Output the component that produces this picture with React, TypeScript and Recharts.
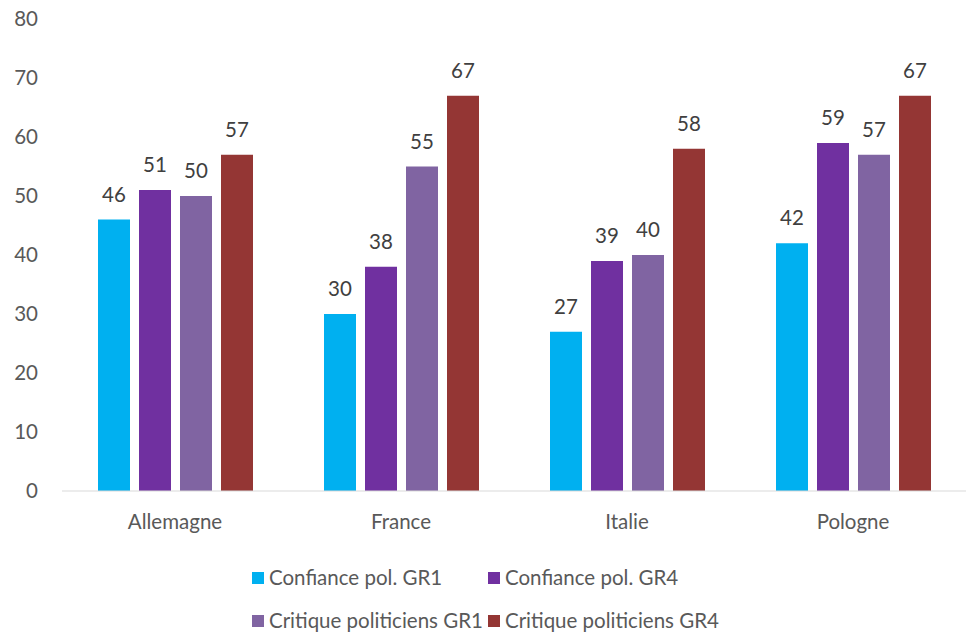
import React from 'react';
import { BarChart, Bar, XAxis, YAxis, LabelList, Legend } from 'recharts';

const categories = ['Allemagne', 'France', 'Italie', 'Pologne'];
const confianceGR1 = [46, 30, 27, 42];
const confianceGR4 = [51, 38, 39, 59];
const critiqueGR1 = [50, 55, 40, 57];
const critiqueGR4 = [57, 67, 58, 67];
const yTicks = [0, 10, 20, 30, 40, 50, 60, 70, 80];

const series = [
  { key: 'c1', name: 'Confiance pol. GR1', color: '#00B0F0' },
  { key: 'c4', name: 'Confiance pol. GR4', color: '#7030A0' },
  { key: 'k1', name: 'Critique politiciens GR1', color: '#8064A2' },
  { key: 'k4', name: 'Critique politiciens GR4', color: '#943634' },
];

const data = categories.map((name, i) => ({
  name,
  c1: confianceGR1[i],
  c4: confianceGR4[i],
  k1: critiqueGR1[i],
  k4: critiqueGR4[i],
}));

const FONT = 'Lato, "Open Sans", sans-serif';
const FS = 20.5;

const renderLegend = () => (
  <div
    style={{
      display: 'grid',
      gridTemplateColumns: '236px 240px',
      rowGap: '20px',
      marginLeft: '252px',
      fontFamily: FONT,
      fontSize: FS,
      lineHeight: '23px',
      color: '#595959',
      height: 66,
    }}
  >
    {series.map((s) => (
      <div key={s.key} style={{ display: 'flex', alignItems: 'center', height: 23, whiteSpace: 'nowrap' }}>
        <span style={{ display: 'inline-block', width: 12, height: 12, background: s.color, marginRight: 5, flexShrink: 0 }} />
        <span>{s.name}</span>
      </div>
    ))}
  </div>
);

export default function App() {
  return (
    <div style={{ position: 'absolute', left: 0, top: 0, width: 966, height: 634, background: '#fff' }}>
      <BarChart
        width={966}
        height={634}
        data={data}
        margin={{ top: 19, right: 0, bottom: 47, left: 0 }}
        barSize={32}
        barGap={9}
      >
        <XAxis
          dataKey="name"
          axisLine={{ stroke: '#D9D9D9', strokeWidth: 1 }}
          tickLine={false}
          tickSize={0}
          tickMargin={23}
          tick={{ fill: '#595959', fontSize: FS, fontFamily: FONT }}
        />
        <YAxis
          width={62}
          domain={[0, 80]}
          ticks={yTicks}
          axisLine={false}
          tickLine={false}
          tickSize={0}
          tickMargin={24}
          tick={{ fill: '#595959', fontSize: FS, fontFamily: FONT }}
        />
        <Legend
          verticalAlign="bottom"
          align="left"
          wrapperStyle={{ left: 0, bottom: 2, width: 966 }}
          content={renderLegend}
        />
        {series.map((s) => (
          <Bar key={s.key} dataKey={s.key} name={s.name} fill={s.color} isAnimationActive={false}>
            <LabelList
              dataKey={s.key}
              position="top"
              offset={18}
              style={{ fill: '#404040', fontSize: FS, fontFamily: FONT }}
            />
          </Bar>
        ))}
      </BarChart>
    </div>
  );
}
